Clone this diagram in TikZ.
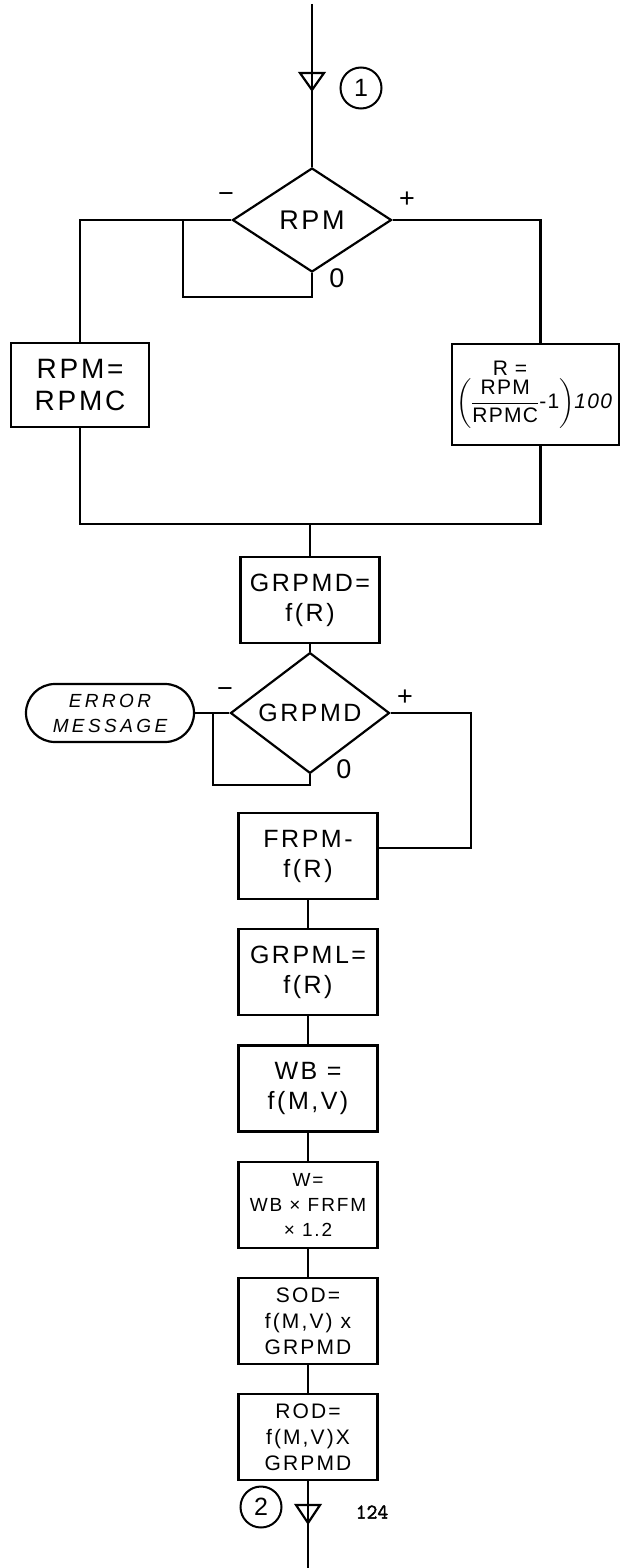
\documentclass[tikz,border=0pt]{standalone}
\usepackage{amsmath}
\usepackage{fontspec}
\newfontfamily\hand[LetterSpace=10]{Liberation Sans}
\newfontfamily\typed[FakeBold=2]{Latin Modern Mono}
\usetikzlibrary{arrows.meta,positioning,shapes.geometric}

\begin{document}
\begin{tikzpicture}[
  x=1pt,y=-1pt,
  node distance=28pt,
  every node/.style={font=\hand\fontsize{25}{30}\selectfont},
  box/.style={draw,line width=2.2pt,align=center,minimum width=139pt,minimum height=86pt,inner sep=3pt},
  dec/.style={draw,diamond,line width=2.2pt,minimum width=159pt,minimum height=104pt,inner sep=0pt},
  term/.style={draw,line width=2.2pt,rounded corners=29pt,minimum width=168pt,minimum height=58pt,align=center,inner sep=2pt},
  conn/.style={draw,circle,line width=2pt,minimum size=41pt,inner sep=0pt},
  sgn/.style={font=\hand\fontsize{27}{27}\selectfont,inner sep=0pt},
  flow/.style={line width=2.2pt}
]
\useasboundingbox (0,0) rectangle (620,1568);

% entry point 1
\coordinate (top) at (312,4);
\coordinate (tri1) at (312,81);
\node[conn] (c1) at (361,88) {1};

% first test on RPM
\node[dec,font=\hand\fontsize{27}{30}\selectfont] (d1) at (312,220) {RPM};
\node[sgn] (neg1) at (226,198) {−};
\node[sgn] (pos1) at (407,200) {+};
\node[sgn] (zero1) at (337,278) {0};
\node[box,minimum width=138pt,minimum height=84pt,font=\hand\fontsize{28}{32}\selectfont] (b1) at (80,385) {RPM=\\RPMC};
\node[box,minimum width=167pt,minimum height=101pt,text width=159pt,align=left,inner sep=4pt,font=\hand\addfontfeature{LetterSpace=6}\fontsize{21}{24}\selectfont] (b2) at (535.5,394.5)
  {\makebox[108pt]{R =}\\[2pt]$\left(\dfrac{\mbox{RPM}\rule[-4pt]{0pt}{19pt}}{\mbox{RPMC}\rule[-5pt]{0pt}{18pt}}\mbox{-1}\right)$\mbox{\itshape 100}};
\coordinate (m) at (310,524);

% second test on GRPMD
\node[box] (b3) at (310,600) {GRPMD=\\f(R)};
\node[dec] (d2) at (310,713) {GRPMD};
\node[sgn] (neg2) at (225,693) {−};
\node[sgn] (pos2) at (405,698) {+};
\node[sgn] (zero2) at (344,769) {0};
\node[term,font=\hand\itshape\addfontfeature{LetterSpace=18}\fontsize{19}{25}\selectfont] (e1) at (110,713) {ERROR\\MESSAGE};
\coordinate (z1) at (183,297);
\coordinate (z2) at (213,785);
\coordinate (p2) at (471,848);

% main column
\node[box] (b4) at (308,856) {FRPM-\\f(R)};
\node[box,below=of b4] (b5) {GRPML=\\f(R)};
\node[box,below=of b5] (b6) {WB =\\f(M,V)};
\node[box,below=of b6,font=\hand\fontsize{19}{25}\selectfont] (b7) {W=\\WB × FRFM\\× 1.2};
\node[box,below=of b7,font=\hand\fontsize{21}{26}\selectfont] (b8) {SOD=\\f(M,V) x\\GRPMD};
\node[box,below=of b8,font=\hand\fontsize{21}{26}\selectfont] (b9) {ROD=\\f(M,V)X\\GRPMD};

% exit point 2
\coordinate (tri2) at (308,1514);
\coordinate (bot) at (308,1568);
\node[conn] (c2) at (261,1507) {2};
\node[font=\typed\fontsize{21}{21}\selectfont] (pg) at (372,1512) {124};

% connectors
\draw[flow] (top) -- (d1.north);
\draw[flow] (tri1) ++(-12,-8) -- ++(24,0) -- ++(-12,17) -- cycle;
\draw[flow] (d1.west) -| (b1.north);
\draw[flow] (d1.east) -| ([xshift=5pt]b2.north);
\draw[flow] (d1.south) |- (z1) |- (d1.west);
\draw[flow] (b1.south) |- (m);
\draw[flow] ([xshift=5pt]b2.south) |- (m);
\draw[flow] (m) -- (b3);
\draw[flow] (b3) -- (d2);
\draw[flow] (d2.west) -- (e1.east);
\draw[flow] (d2.south) |- (z2) |- (d2.west);
\draw[flow] (d2.east) -| (p2) -- (p2 -| b4.east);
\draw[flow] (b4) -- (b5);
\draw[flow] (b5) -- (b6);
\draw[flow] (b6) -- (b7);
\draw[flow] (b7) -- (b8);
\draw[flow] (b8) -- (b9);
\draw[flow] (b9) -- (bot);
\draw[flow] (tri2) ++(-12,-9) -- ++(24,0) -- ++(-12,18) -- cycle;
\end{tikzpicture}
\end{document}
